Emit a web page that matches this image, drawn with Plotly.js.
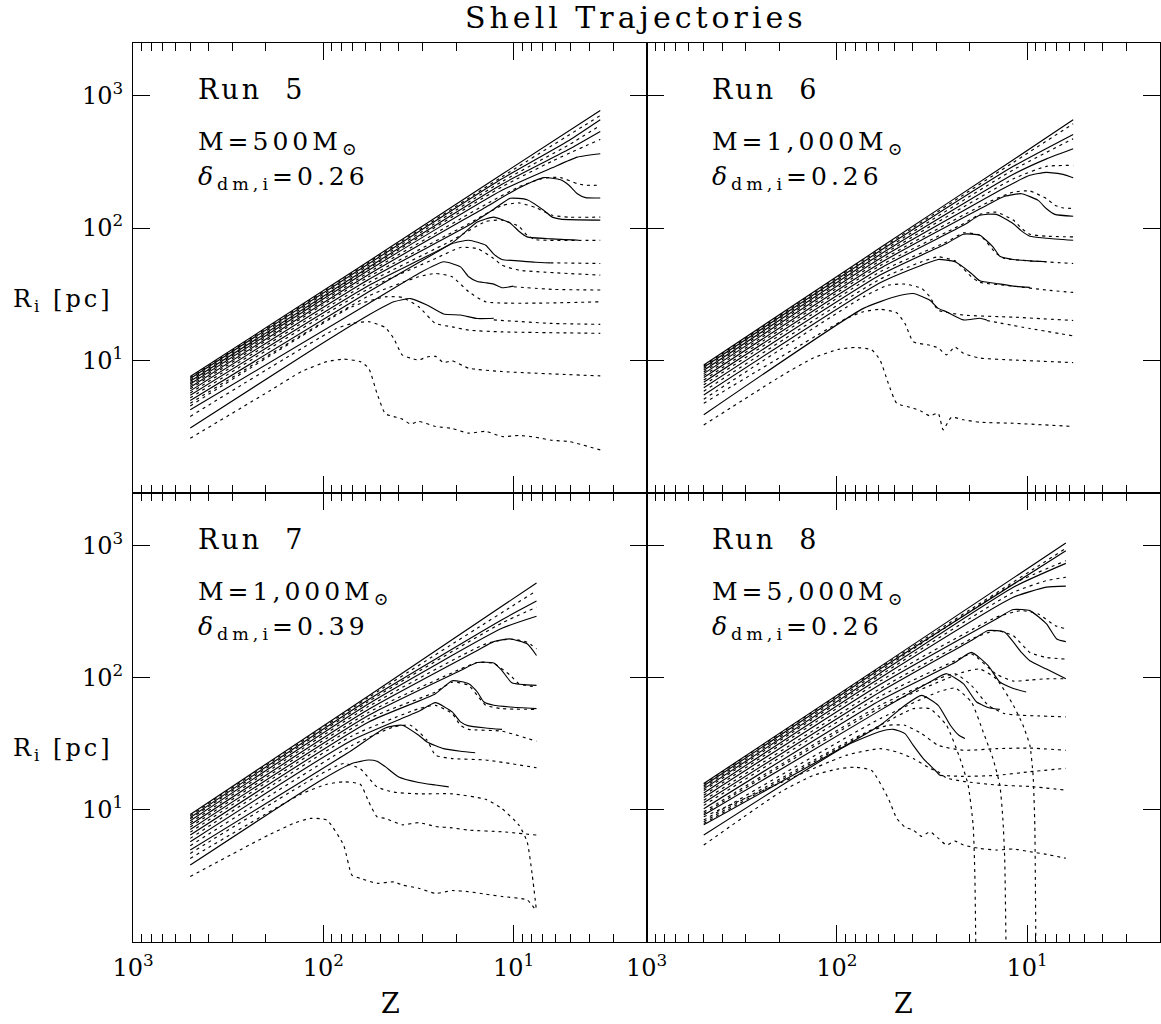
<!DOCTYPE html>
<html><head><meta charset="utf-8">
<script src="https://cdn.plot.ly/plotly-3.0.1.min.js"></script>
<style>html,body{margin:0;padding:0;background:#fff;}#chart{width:1161px;height:1024px;}</style>
</head><body><div id="chart"></div>
<script>
// ---------- axis tick data ----------
const xMajorVals = [1000, 100, 10];
const xMajorText = ['10<sup>3</sup>', '10<sup>2</sup>', '10<sup>1</sup>'];
const xMinorVals = [900,800,700,600,500,400,300,200,90,80,70,60,50,40,30,20,9,8,7,6,5,4,3];
const yMajorVals = [10, 100, 1000];
const yMajorText = ['10<sup>1</sup>', '10<sup>2</sup>', '10<sup>3</sup>'];

// ---------- panel labels ----------
const runNames = ['Run\u00a0\u00a05', 'Run\u00a0\u00a06', 'Run\u00a0\u00a07', 'Run\u00a0\u00a08'];
const runMass = ['500', '1,000', '1,000', '5,000'];
const runDelta = ['0.26', '0.26', '0.39', '0.26'];

// ---------- Run 5 shells (Z = redshift, R = radius in pc) ----------
const run5Kind = ['dm','gas','dm','gas','dm','gas','dm','gas','dm','gas','dm','gas','dm','gas','dm','gas','gas','gas','dm','gas','gas','dm','gas','gas'];
const run5Z = [
 [500,57.7,11.5,3.5],
 [500,57.7,11.5,3.5],
 [500,57.7,11.5,5.11,3.5],
 [500,57.7,11.5,5.11,3.5],
 [500,57.7,11.5,5.11,3.5],
 [500,57.7,11.5,6.26,3.5],
 [500,57.7,11.5,6.26,4.62,3.5],
 [500,57.7,14.0,9.37,6.92,5.66,4.62,4.18,3.5],
 [500,57.7,14.0,9.37,6.92,5.66,5.11,4.62,4.18,3.5],
 [500,57.7,17.2,11.5,9.37,7.66,6.26,5.11,3.5],
 [500,57.7,17.2,12.7,10.4,8.48,6.92,6.26,5.66,3.5],
 [500,57.7,21.0,14.0,11.5,9.37,8.48,7.66,3.5],
 [500,57.7,21.0,15.5,12.7,10.4,9.37,8.48,6.26,4.53],
 [500,57.7,25.7,19.0,15.5,12.7,11.5,9.37,3.5],
 [500,57.7,25.7,21.0,17.2,14.0,12.7,11.5,9.37,7.66,6.4],
 [6.4,3.5],
 [500,57.7,31.5,25.7,21.0,17.2,14.0,3.5],
 [500,70.7,47.2,38.5,31.5,25.7,21.0,17.2,11.5,3.5],
 [500,57.7,31.5,23.3,19.0,17.2,15.5,14.0,12.7,11.5,10.0],
 [10.0,6.26,3.5],
 [500,86.5,70.7,57.7,47.2,42.6,38.5,34.8,31.5,28.5,25.7,23.3,21.0,17.2,11.5,3.5],
 [500,130,57.7,42.6,34.8,28.5,23.3,19.0,15.5,12.7],
 [12.7,6.26,3.5],
 [500,194,130,95.7,78.2,63.9,57.7,52.2,47.2,42.6,38.5,34.8,31.5,25.7,21.0,17.2,14.0,11.5,9.37,7.66,6.26,5.11,3.5]
];
const run5R = [
 [7.53,56.2,255,775],
 [7.40,55.0,244,710],
 [7.27,53.7,236,460,659],
 [7.10,52.2,225,427,597],
 [6.93,50.6,215,394,537],
 [6.78,49.5,205,321,469],
 [6.62,48.0,193,286,344,365],
 [6.44,46.2,151,205,239,241,217,211,211],
 [6.26,44.6,144,201,241,232,211,182,170,169],
 [6.08,42.8,108,148,155,143,125,121,121],
 [5.87,40.9,105,139,168,164,136,121,117,115],
 [5.66,38.8,80.9,112,115,103,88.3,81.9,80.9],
 [5.44,36.8,77.3,111,121,109,94.7,85.8,82.8,80.9],
 [5.20,34.8,58.9,71.3,70.0,58.9,52.4,48.1,44.1],
 [4.96,33.0,65.0,76.4,80.9,74.2,63.5,57.9,56.5,55.2,54.6],
 [54.6,54.0],
 [4.73,30.7,42.8,45.4,42.8,33.0,27.7,27.7],
 [4.52,25.4,30.2,29.9,25.4,19.0,17.9,16.9,16.4,16.0],
 [4.22,26.9,45.4,55.6,50.9,42.8,39.4,38.6,37.7,35.4,36.4],
 [36.0,34.4,34.0],
 [3.76,17.2,19.0,19.6,17.7,14.6,11.0,10.4,10.05,10.6,10.7,9.6,9.9,8.71,8.22,7.62],
 [3.07,10.7,22.0,27.7,29.3,26.2,22.4,22.0,20.7,20.8],
 [20.2,19.0,18.7],
 [2.57,5.80,8.22,9.77,10.2,9.77,8.71,5.63,3.94,3.75,3.59,3.30,3.45,3.16,3.05,2.81,2.90,2.65,2.70,2.62,2.48,2.43,2.10]
];

// ---------- Run 6 ----------
const run6Kind = ['dm','gas','dm','gas','dm','gas','dm','gas','dm','gas','dm','gas','dm','gas','dm','gas','dm','gas','gas','gas'];
const run6Z = [
 [500,59.2,11.8,5.72],
 [500,59.2,11.8,5.72],
 [500,59.2,11.8,5.72],
 [500,59.2,11.8,5.72],
 [500,59.2,11.8,7.90,5.72],
 [500,59.2,11.8,7.90,5.72],
 [500,59.2,13.1,9.66,7.90,6.46,5.72],
 [500,59.2,16.0,11.8,9.66,7.90,7.14,6.46,5.72],
 [500,59.2,16.0,13.1,10.7,8.74,7.90,7.14,5.72],
 [500,59.2,21.6,17.7,14.5,11.8,10.7,9.66,7.90,5.72],
 [500,59.2,21.6,17.7,14.5,11.8,10.7,9.66,7.90,5.72],
 [500,59.2,26.5,21.6,17.7,14.5,13.1,9.66,5.72],
 [500,59.2,26.5,21.6,17.7,15.1,13.9,11.8,9.66,7.90],
 [500,59.2,35.8,29.3,23.9,19.6,17.7,11.8,7.90,5.72],
 [500,59.2,35.8,29.3,23.9,19.6,17.7,14.5,11.8,9.66],
 [500,72.4,53.6,43.8,35.8,32.4,29.3,21.6,11.8,5.72],
 [500,72.4,48.4,39.6,32.4,29.3,26.5,21.6,17.7,16.3],
 [16.3,9.66,5.72],
 [500,88.6,72.4,59.2,48.4,43.8,39.6,32.4,29.3,26.5,23.9,21.6,17.7,11.8,5.72],
 [500,198,133,98.0,80.1,65.5,59.2,53.6,48.4,39.6,35.8,32.4,29.3,27.6,25.0,21.6,17.7,11.8,5.72]
];
const run6R = [
 [9.22,70.9,329,659],
 [9.06,69.2,314,615],
 [8.86,67.3,293,511],
 [8.66,65.3,276,474],
 [8.41,63.1,255,334,398],
 [8.17,61.0,236,293,298],
 [7.93,58.9,202,251,264,255,240],
 [7.66,56.5,157,187,191,167,149,142,141],
 [7.40,54.3,151,174,182,162,140,127,123],
 [7.10,51.9,108,127,132,115,99.7,89.9,86.8,85.8],
 [6.83,49.5,105,125,127,108,95.2,86.8,83.8,80.9],
 [6.52,46.7,78.6,91.9,88.3,64.2,58.9,56.5,54.0],
 [6.19,44.1,76.4,89.9,88.3,72.1,61.3,57.9,56.5,55.6],
 [5.84,41.1,55.6,60.6,56.5,42.8,38.9,36.4,34.0,32.6],
 [5.47,38.6,52.4,57.9,55.6,45.4,39.9,38.1,36.4,35.6],
 [5.08,30.2,37.0,37.7,35.0,30.2,24.0,22.0,21.2,20.0],
 [3.87,24.7,30.5,32.0,28.5,24.7,23.3,20.2,20.8,20.2],
 [20.0,17.4,15.3],
 [4.73,20.8,23.3,24.3,22.9,19.0,13.8,13.0,12.4,11.0,12.6,11.3,10.4,10.05,9.61],
 [3.24,7.53,10.4,12.1,12.5,12.0,10.05,6.70,4.73,4.35,4.10,3.80,3.98,2.98,3.70,3.55,3.40,3.34,3.16]
];

// ---------- Run 7 ----------
const run7Kind = ['dm','gas','dm','gas','dm','gas','dm','gas','dm','gas','dm','gas','dm','gas','dm','gas','dm','gas','gas'];
const run7Z = [
 [500,57.7,7.57],
 [500,57.7,7.57],
 [500,57.7,11.5,7.57],
 [500,57.7,11.5,7.57],
 [500,57.7,11.5,7.57],
 [500,57.7,14.0,10.4,8.48,7.57],
 [500,57.7,15.5,12.7,10.4,8.48,7.57],
 [500,57.7,19.0,15.5,12.7,10.4,9.37,7.57],
 [500,57.7,19.0,15.5,12.7,11.5,10.2,7.57],
 [500,57.7,25.7,21.0,17.2,15.5,14.0,11.5,7.57],
 [500,57.7,25.7,21.0,17.2,15.5,14.3,12.7,10.4,7.57],
 [500,70.7,31.5,25.7,21.0,19.0,17.2,11.5,7.57],
 [500,70.7,31.5,25.7,21.0,19.0,17.2,14.0,11.5],
 [500,70.7,42.6,34.8,28.5,25.7,21.0,14.0,7.57],
 [500,70.7,47.2,38.5,31.5,28.5,23.3,19.0,15.9],
 [500,106,78.2,63.9,52.2,42.6,31.5,21.0,14.0,11.5,9.37,8.48,7.97,7.57],
 [500,106,70.7,57.7,52.2,47.2,40.1,31.5,25.7,21.9],
 [500,130,95.7,78.2,63.9,57.7,52.2,47.2,38.5,31.5,25.7,21.0,17.2,11.5,7.57],
 [500,194,143,117,95.7,78.2,70.7,63.9,52.2,42.6,38.5,31.5,25.7,21.0,17.2,14.0,11.5,8.48,7.57]
];
const run7R = [
 [9.22,72.9,520],
 [9.01,70.9,454],
 [8.76,68.4,274,379],
 [8.56,66.1,259,340],
 [8.27,63.5,236,291],
 [7.98,60.6,180,196,185,165],
 [7.70,57.5,160,187,196,180,147],
 [7.40,54.6,116,130,128,104,89.9,84.8],
 [7.10,51.9,113,130,129,113,91.4,87.3],
 [6.78,48.9,77.8,92.5,87.3,73.3,61.7,58.2,57.5],
 [6.44,46.2,75.6,94.7,89.9,77.8,65.3,61.7,59.9,58.2],
 [6.08,36.2,58.2,61.7,53.4,43.6,40.6,39.3,33.0],
 [5.74,33.6,55.6,64.6,55.0,46.2,43.1,41.6,40.6],
 [5.35,30.7,42.3,43.6,33.6,25.9,24.4,23.8,20.8],
 [4.96,28.2,41.6,43.6,36.6,32.6,29.0,27.7,27.0],
 [4.68,18.2,22.4,20.4,14.9,13.6,13.2,13.2,12.0,10.2,7.66,5.74,3.21,1.71],
 [3.82,16.3,22.4,23.8,23.3,21.2,17.7,16.1,15.4,14.9],
 [4.29,13.2,15.6,16.3,15.6,11.5,8.86,8.61,7.70,8.0,7.48,7.30,7.02,6.82,6.44],
 [3.13,6.44,7.89,8.61,8.36,5.41,3.21,3.03,2.78,2.85,2.70,2.55,2.33,2.45,2.40,2.30,2.21,2.08,1.71]
];

// ---------- Run 8 ----------
const run8Kind = ['dm','gas','dm','gas','dm','gas','dm','gas','dm','gas','dm','gas','dm','gas','dm','gas','gas','gas','dm','gas','dm','gas','gas','gas'];
const run8Z = [
 [500,59.2,6.25],
 [500,59.2,6.25],
 [500,59.2,6.25],
 [500,59.2,11.8,6.25],
 [500,59.2,11.8,6.25],
 [500,59.2,11.8,7.90,6.25],
 [500,59.2,11.8,7.90,6.25],
 [500,59.2,14.5,10.7,8.74,7.14,6.25],
 [500,59.2,14.5,11.8,9.66,7.90,6.98,6.25],
 [500,59.2,19.6,14.5,11.8,9.66,7.90,6.25],
 [500,59.2,19.6,16.0,13.1,10.7,9.66,7.90,6.25],
 [500,59.2,23.9,19.6,14.5,11.8,9.66,7.90,6.25],
 [500,59.2,23.9,19.6,16.0,13.9,11.8,10.1],
 [500,59.2,29.3,23.9,19.6,16.0,13.1,10.7,8.74,6.25],
 [500,59.2,32.4,26.5,21.6,18.4,15.7,13.9],
 [500,59.2,21.6,17.7,14.5,11.8,10.5,9.66,9.29,9.10,8.99],
 [500,59.2,29.3,23.9,19.6,17.0,15.1,13.9,13.4,13.1,12.9],
 [500,59.2,39.6,32.4,26.5,22.5,20.4,19.2,18.8,18.6],
 [500,59.2,43.8,35.8,29.3,25.3,22.8,21.2],
 [500,72.4,53.6,43.8,35.8,29.3,21.6,14.5,9.66,6.25],
 [500,88.6,59.2,50.4,43.8,39.6,35.1,30.5,28.7],
 [28.7,21.6,14.5,9.66,6.25],
 [500,88.6,59.2,48.4,39.6,32.4,29.3,26.5,21.6,14.5,9.66,6.25],
 [500,198,133,98.0,80.1,65.5,53.6,48.4,43.8,39.6,35.8,32.4,29.3,26.5,23.9,21.6,17.7,14.5,11.8,9.66,7.90,6.25]
];
const run8R = [
 [15.8,121,1041],
 [15.6,119,950],
 [15.2,116,911],
 [14.8,112,512,766],
 [14.4,108,483,731],
 [14.0,104,441,541,574],
 [13.4,99.4,405,483,492],
 [12.9,94.1,286,321,303,248,234],
 [12.4,88.8,278,327,321,255,196,187],
 [11.8,82.3,196,227,207,155,142,138],
 [11.3,77.8,191,227,220,155,134,116,97.9],
 [10.8,72.1,134,151,106,94.1,95.9,97.9,97.9],
 [10.2,67.2,130,155,123,92.5,82.8,77.8],
 [9.66,61.7,97.9,107,87.3,61.7,53.4,51.9,51.3,50.4],
 [9.12,56.5,92.5,107,89.9,65.3,58.9,57.5],
 [9.38,58.9,110,116,97.9,61.7,43.6,30.7,18.2,7.66,1.0],
 [8.36,48.9,77.8,83.3,65.3,38.8,24.4,15.4,8.61,4.30,1.0],
 [7.89,43.6,58.2,58.2,43.6,24.4,15.4,7.66,3.21,1.0],
 [7.70,43.6,61.7,73.3,61.7,43.6,36.6,34.6],
 [8.12,37.7,43.6,43.6,37.7,30.7,28.2,29.0,29.3,28.2],
 [6.44,30.7,39.1,40.6,37.7,30.7,24.4,20.0,18.2],
 [18.2,17.9,18.2,19.4,20.6],
 [8.86,25.9,29.0,27.4,24.4,20.6,19.4,17.4,16.4,15.4,15.0,14.1],
 [5.41,13.6,18.2,20.4,21.0,19.8,12.2,8.61,7.40,7.02,6.30,6.82,6.10,5.41,5.80,5.41,5.10,4.96,5.05,4.82,4.60,4.30]
];

// ---------- build ----------
const FONT = 'DejaVu Serif';
const panels = [
  {kind: run5Kind, z: run5Z, r: run5R, xa: 'x',  ya: 'y'},
  {kind: run6Kind, z: run6Z, r: run6R, xa: 'x2', ya: 'y2'},
  {kind: run7Kind, z: run7Z, r: run7R, xa: 'x3', ya: 'y3'},
  {kind: run8Kind, z: run8Z, r: run8R, xa: 'x4', ya: 'y4'}
];
const traces = [];
panels.forEach(p => {
  p.z.forEach((zs, i) => {
    traces.push({
      type: 'scatter', mode: 'lines', x: zs, y: p.r[i], xaxis: p.xa, yaxis: p.ya,
      line: {color: '#000', width: 1.15, dash: p.kind[i] === 'dm' ? 'solid' : '3px,4px', shape: 'spline', smoothing: 0.5},
      hoverinfo: 'skip', showlegend: false
    });
  });
});

const W = 1161, H = 1024, ML = 133, MR = 1, MT = 43, MB = 82;
const PW = W - ML - MR, PH = H - MT - MB;
const pxX = v => (v - ML) / PW;
const pxY = v => 1 - (v - MT) / PH;

function xAxis(domain, anchor, labels) {
  return {
    type: 'log', domain: domain, anchor: anchor, range: [3, Math.log10(2)],
    showline: true, linecolor: '#000', linewidth: 1, mirror: 'ticks',
    ticks: 'inside', ticklen: 17, tickwidth: 1, tickcolor: '#000',
    tickmode: 'array', tickvals: xMajorVals, ticktext: xMajorText,
    showticklabels: labels, ticklabelstandoff: 4,
    tickfont: {family: FONT, size: 24, color: '#000'},
    minor: {tickmode: 'array', tickvals: xMinorVals, ticks: 'inside', ticklen: 8, tickwidth: 1, tickcolor: '#000', showgrid: false},
    showgrid: false, zeroline: false, fixedrange: true
  };
}
function yAxis(domain, anchor, labels) {
  return {
    type: 'log', domain: domain, anchor: anchor, range: [0, 3.4],
    showline: true, linecolor: '#000', linewidth: 1, mirror: 'ticks',
    ticks: 'inside', ticklen: 17, tickwidth: 1, tickcolor: '#000',
    tickmode: 'array', tickvals: yMajorVals, ticktext: yMajorText,
    showticklabels: labels, ticklabelstandoff: 4,
    tickfont: {family: FONT, size: 24, color: '#000'},
    showgrid: false, zeroline: false, fixedrange: true
  };
}

const spaced = (t, s) => '<span style="letter-spacing:' + s + 'px">' + t + '</span>';
const ann = [];
function addText(text, x, y, size, xanchor) {
  ann.push({text: text, xref: 'paper', yref: 'paper', x: pxX(x), y: pxY(y),
    xanchor: xanchor || 'left', yanchor: 'middle', showarrow: false,
    font: {family: FONT, size: size, color: '#000'}});
}
addText(spaced('Shell Trajectories', 4), 636, 17, 30, 'center');
const origins = [[133, 43], [646.5, 43], [133, 492.5], [646.5, 492.5]];
origins.forEach((o, k) => {
  addText(spaced(runNames[k], 3), o[0] + 63, o[1] + 47, 27);
  addText(spaced('M=' + runMass[k] + 'M<sub>\u2299</sub>', 4), o[0] + 63, o[1] + 100, 25);
  addText(spaced('<i>\u03b4</i><sub>dm,i</sub>=' + runDelta[k], 4), o[0] + 63, o[1] + 135, 25);
});
addText(spaced('R<sub>i</sub> [pc]', 3), 11, 300, 24);
addText(spaced('R<sub>i</sub> [pc]', 3), 11, 749, 24);
addText('Z', 390, 1003, 27, 'center');
addText('Z', 903, 1003, 27, 'center');

const layout = {
  width: W, height: H, margin: {l: ML, r: MR, t: MT, b: MB},
  paper_bgcolor: '#fff', plot_bgcolor: '#fff', showlegend: false,
  font: {family: FONT, color: '#000'},
  xaxis: xAxis([0, 0.5], 'y', false),
  xaxis2: xAxis([0.5, 1], 'y2', false),
  xaxis3: xAxis([0, 0.5], 'y3', true),
  xaxis4: xAxis([0.5, 1], 'y4', true),
  yaxis: yAxis([0.5, 1], 'x', true),
  yaxis2: yAxis([0.5, 1], 'x2', false),
  yaxis3: yAxis([0, 0.5], 'x3', true),
  yaxis4: yAxis([0, 0.5], 'x4', false),
  annotations: ann
};
Plotly.newPlot('chart', traces, layout, {displayModeBar: false, staticPlot: true});
</script>
</body></html>
